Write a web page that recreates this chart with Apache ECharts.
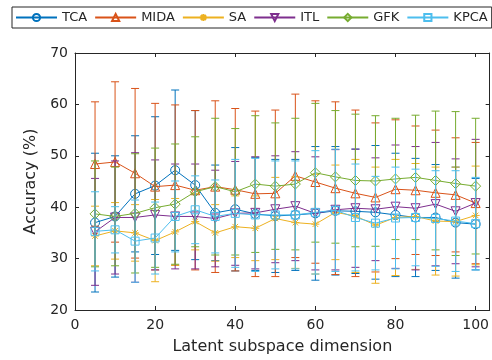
<!DOCTYPE html>
<html>
<head>
<meta charset="utf-8">
<script src="https://cdn.jsdelivr.net/npm/echarts@6/dist/echarts.min.js"></script>
<style>html,body{margin:0;padding:0;background:#fff}#c{width:492px;height:360px}</style>
</head>
<body>
<div id="c"></div>
<script>
const dims = [5,10,15,20,25,30,35,40,45,50,55,60,65,70,75,80,85,90,95,100];
const xTicks = [0,20,40,60,80,100];
const yTicks = [20,30,40,50,60,70];
const names = ['TCA','MIDA','SA','ITL','GFK','KPCA'];

const tcaMean  = [37.0,38.2,42.6,44.2,47.2,44.3,38.9,39.6,38.7,38.3,38.5,38.8,39.3,39.2,39.0,38.5,38.0,38.0,37.0,36.7];
const tcaStd   = [13.5,11.8,11.3,13.4,15.6,14.5,9.3,12.0,11.0,11.0,10.8,13.0,12.5,12.1,13.0,12.0,11.5,10.3,10.8,8.9];
const midaMean = [48.4,48.8,46.6,44.0,44.3,43.3,44.0,43.4,42.6,42.7,46.1,44.9,43.7,42.7,41.9,43.5,43.3,42.8,42.4,40.8];
const midaStd  = [12.1,15.6,16.5,16.2,15.6,15.5,16.7,15.8,16.1,16.2,15.9,15.8,16.8,16.2,14.5,13.5,12.5,12.2,11.1,11.8];
const saMean   = [34.4,35.4,35.0,33.5,35.2,37.2,35.0,36.2,35.9,37.8,37.0,36.7,39.0,38.3,36.5,38.0,38.2,37.3,37.2,38.4];
const saStd    = [5.8,5.5,5.5,8.0,6.5,5.5,5.5,6.0,6.3,8.0,8.9,9.7,9.2,11.0,11.3,11.3,10.3,10.5,10.6,9.6];
const itlMean  = [35.2,38.0,38.0,38.5,38.2,38.2,37.8,38.8,38.9,39.6,40.2,38.8,39.5,39.8,39.6,40.1,39.8,40.6,39.2,40.8];
const itlStd   = [10.4,11.0,12.6,10.7,10.2,10.2,9.4,10.1,10.9,10.4,10.6,11.0,11.7,11.5,10.0,12.0,12.0,12.0,10.2,12.4];
const gfkMean  = [38.7,38.2,38.8,39.9,40.6,43.0,44.0,43.0,44.5,44.1,44.5,46.7,45.9,45.2,45.1,45.5,45.8,45.2,44.6,44.1];
const gfkStd   = [10.3,9.6,11.6,11.6,11.7,10.7,13.3,12.3,13.3,12.3,12.8,13.5,12.9,12.9,12.7,11.8,12.1,13.5,14.0,13.2];
const kpcaMean = [35.3,35.6,33.4,34.0,38.2,39.5,38.2,38.8,38.5,38.5,38.5,39.0,39.4,38.0,36.9,37.9,38.0,37.8,37.3,36.8];
const kpcaStd  = [7.7,4.5,8.0,7.0,6.9,6.6,7.1,10.5,11.0,10.5,10.5,12.0,11.9,10.4,9.1,9.9,9.4,9.3,9.8,9.0];

const means = [tcaMean, midaMean, saMean, itlMean, gfkMean, kpcaMean];
const stds = [tcaStd, midaStd, saStd, itlStd, gfkStd, kpcaStd];
const colors = ['#0072BD','#D95319','#EDB120','#7E2F8E','#77AC30','#4DBEEE'];
const symbols = ['circle','triangle',
  'path://M5,0L5,10M0,5L10,5M1.5,1.5L8.5,8.5M8.5,1.5L1.5,8.5',
  'path://M0,0L10,0L5,9Z','diamond','rect'];
const symSizes = [9,9,8,9,10,8];
const txt = '#262626';
const FONT = 'DejaVu Sans';

function errRender(color){
  return function(params, api){
    const x = api.value(0), lo = api.value(1), hi = api.value(2);
    const a = api.coord([x, lo]), b = api.coord([x, hi]);
    const w = 4;
    const st = {stroke: color, lineWidth: 1, fill: null};
    return {type:'group', children:[
      {type:'line', shape:{x1:a[0],y1:a[1],x2:b[0],y2:b[1]}, style:st},
      {type:'line', shape:{x1:a[0]-w,y1:a[1],x2:a[0]+w,y2:a[1]}, style:st},
      {type:'line', shape:{x1:b[0]-w,y1:b[1],x2:b[0]+w,y2:b[1]}, style:st}
    ]};
  };
}

const series = [];
names.forEach((n,i)=>{
  series.push({
    type:'custom', name:n+' err', z: 10+2*i, silent:true,
    renderItem: errRender(colors[i]),
    data: dims.map((d,k)=>[d, means[i][k]-stds[i][k], means[i][k]+stds[i][k]]),
    animation:false
  });
  series.push({
    type:'line', name:n, z: 11+2*i,
    data: dims.map((d,k)=>[d, means[i][k]]),
    symbol: symbols[i], symbolSize: symSizes[i], showAllSymbol:true,
    lineStyle:{color:colors[i], width:1},
    itemStyle:{color:'rgba(0,0,0,0)', borderColor:colors[i], borderWidth:1},
    animation:false
  });
});

const axisCommon = {
  axisLine:{show:true, onZero:false, lineStyle:{color:txt, width:1}},
  axisTick:{show:true, inside:true, length:4, lineStyle:{color:txt}},
  splitLine:{show:false}
};

const chart = echarts.init(document.getElementById('c'), null, {renderer:'canvas'});
chart.setOption({
  backgroundColor:'#fff',
  animation:false,
  textStyle:{fontFamily:FONT},
  legend:{
    data: names,
    left:12, top:7, orient:'horizontal',
    itemWidth:41, itemHeight:9, itemGap:7,
    padding:[4,4,4,3],
    borderColor:txt, borderWidth:1, backgroundColor:'#fff',
    textStyle:{color:txt, fontSize:13, fontFamily:FONT}
  },
  grid:{left:75, right:2, top:53, bottom:50, containLabel:false},
  xAxis:[
    Object.assign({type:'value', min:0, max:103.5, interval:20, position:'bottom',
      name:'Latent subspace dimension', nameLocation:'middle', nameGap:29,
      nameTextStyle:{color:txt, fontSize:16, fontFamily:FONT},
      axisLabel:{color:txt, fontSize:14, fontFamily:FONT, margin:8, showMaxLabel:false,
        formatter: v => xTicks.includes(v) ? String(v) : ''}}, axisCommon),
    Object.assign({type:'value', min:0, max:103.5, interval:20, position:'top',
      axisLabel:{show:false}}, axisCommon)
  ],
  yAxis:[
    Object.assign({type:'value', min:20, max:70, interval:10, position:'left',
      name:'Accuracy (%)', nameLocation:'middle', nameGap:26, nameRotate:90,
      nameTextStyle:{color:txt, fontSize:16, fontFamily:FONT},
      axisLabel:{color:txt, fontSize:14, fontFamily:FONT, margin:7,
        formatter: v => yTicks.includes(v) ? String(v) : ''}}, axisCommon),
    Object.assign({type:'value', min:20, max:70, interval:10, position:'right',
      axisLabel:{show:false}}, axisCommon)
  ],
  series: series
});
</script>
</body>
</html>
